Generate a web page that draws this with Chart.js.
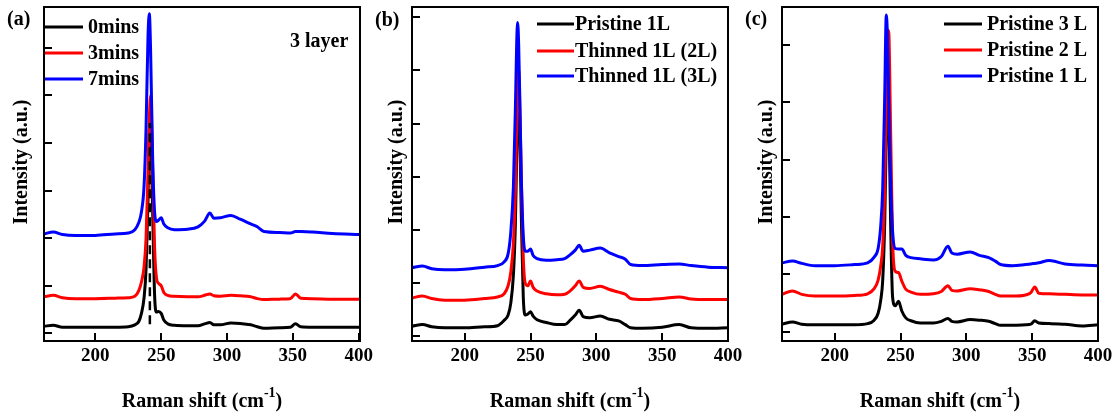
<!DOCTYPE html>
<html>
<head>
<meta charset="utf-8">
<title>Raman spectra</title>
<script src="https://cdn.jsdelivr.net/npm/chart.js@4.4.1/dist/chart.umd.min.js"></script>
<style>
  html, body { margin: 0; padding: 0; background: #fff; }
  .wrap { position: relative; width: 1115px; height: 418px; }
  .wrap canvas { position: absolute; top: 0; }
</style>
</head>
<body>
<div class="wrap">
  <canvas id="panelA" width="380" height="418" style="left:0"></canvas>
  <canvas id="panelB" width="380" height="418" style="left:368px"></canvas>
  <canvas id="panelC" width="377" height="418" style="left:738px"></canvas>
</div>
<script>
/* ================================================================
   Raman spectra, three panels (a) (b) (c)
   ================================================================ */

var SERIF = '"Liberation Serif", "Times New Roman", serif';
var BLACK = '#000000', RED = '#ff0000', BLUE = '#0000ff';
var xTicks = [200, 250, 300, 350, 400];

/* ── Panel (a): thinning time, 3 layer ───────────────────── */
var shiftA = [161, 168, 175, 185, 200, 215, 225, 230, 233, 235,
              237, 238.5, 240, 241, 242, 243.5, 245, 246.5, 248, 250,
              252, 255, 260, 270, 278, 283, 287, 290, 295, 303,
              310, 318, 323, 328, 340, 348, 352, 356, 365, 380, 401];
var min0A = [0.15, 0.17, 0.13, 0.13, 0.13, 0.13, 0.14, 0.18, 0.25, 0.42,
             0.75, 1.35, 2.8, 4.3, 4.2, 2.6, 0.8, 0.45, 0.46, 0.42,
             0.28, 0.2, 0.17, 0.16, 0.16, 0.2, 0.23, 0.18, 0.18, 0.22,
             0.21, 0.18, 0.14, 0.11, 0.12, 0.13, 0.2, 0.14, 0.13, 0.13, 0.13];
var min3A = [0.77, 0.8, 0.75, 0.73, 0.73, 0.74, 0.75, 0.78, 0.9, 1.08,
             1.4, 2.0, 3.4, 4.5, 5.0, 3.5, 1.8, 1.15, 1.05, 1.0,
             0.86, 0.8, 0.78, 0.77, 0.77, 0.8, 0.83, 0.79, 0.78, 0.8,
             0.79, 0.77, 0.73, 0.71, 0.72, 0.73, 0.83, 0.74, 0.73, 0.72, 0.72];
var min7A = [2.09, 2.13, 2.08, 2.06, 2.06, 2.09, 2.11, 2.18, 2.33, 2.55,
             3.1, 4.3, 6.25, 6.72, 5.9, 3.7, 2.55, 2.35, 2.38, 2.43,
             2.3, 2.22, 2.18, 2.19, 2.24, 2.36, 2.53, 2.42, 2.43, 2.48,
             2.4, 2.3, 2.24, 2.14, 2.12, 2.11, 2.14, 2.14, 2.13, 2.1, 2.08];
var markXA = [241.4, 241.4];
var markYA = [0.19, 4.42];
var yTicksA = [0, 1, 2, 3, 4, 5, 6];

/* ── Panel (b): pristine vs thinned 1L ───────────────────── */
var shiftB = [160, 168, 175, 185, 200, 215, 225, 230, 233, 235,
              237, 238.5, 239.5, 240.2, 241, 242, 243, 244.5, 246, 248,
              250, 252, 255, 262, 270, 276, 280, 284, 287, 290,
              295, 303, 310, 317, 322, 326, 335, 350, 363, 372, 385, 400];
var pristine1B = [0.19, 0.22, 0.18, 0.16, 0.16, 0.18, 0.2, 0.3, 0.4, 0.62,
                  1.15, 2.1, 3.4, 4.2, 4.45, 3.6, 2.3, 0.75, 0.4, 0.42,
                  0.46, 0.38, 0.31, 0.26, 0.22, 0.22, 0.3, 0.4, 0.49, 0.37,
                  0.35, 0.38, 0.32, 0.29, 0.22, 0.16, 0.15, 0.17, 0.22, 0.16, 0.15, 0.16];
var thinned2B = [0.72, 0.76, 0.71, 0.68, 0.68, 0.71, 0.74, 0.8, 0.95, 1.2,
                 1.75, 2.7, 4.0, 4.75, 5.0, 4.2, 3.0, 1.5, 1.0, 0.95,
                 1.04, 0.92, 0.85, 0.8, 0.78, 0.79, 0.85, 0.95, 1.04, 0.92,
                 0.9, 0.94, 0.88, 0.83, 0.79, 0.71, 0.69, 0.71, 0.74, 0.7, 0.69, 0.69];
var thinned3B = [1.29, 1.32, 1.27, 1.25, 1.26, 1.3, 1.33, 1.4, 1.55, 1.95,
                 2.8, 4.25, 5.5, 5.9, 5.5, 4.3, 3.0, 1.9, 1.6, 1.6,
                 1.64, 1.52, 1.46, 1.43, 1.44, 1.46, 1.53, 1.62, 1.71, 1.6,
                 1.62, 1.66, 1.57, 1.5, 1.45, 1.35, 1.33, 1.35, 1.36, 1.33, 1.3, 1.29];
var yTicksB = [0, 1, 2, 3, 4, 5, 6];

/* ── Panel (c): pristine 3L / 2L / 1L ────────────────────── */
var shiftC = [160, 168, 175, 185, 200, 215, 225, 230, 233, 235,
              236.5, 238, 239.2, 240, 241, 242.5, 244, 246, 248.5, 251,
              254, 258, 265, 275, 281, 286, 289, 293, 303, 310,
              317, 322, 326, 335, 345, 349, 352, 355, 363, 375, 388, 400];
var pristine3C = [0.13, 0.17, 0.13, 0.12, 0.12, 0.12, 0.14, 0.2, 0.32, 0.55,
                  0.9, 1.9, 3.4, 4.35, 4.0, 1.9, 0.6, 0.45, 0.53, 0.36,
                  0.24, 0.19, 0.15, 0.15, 0.18, 0.23, 0.18, 0.17, 0.21, 0.2,
                  0.18, 0.14, 0.11, 0.11, 0.12, 0.13, 0.19, 0.15, 0.14, 0.13, 0.1, 0.12];
var pristine2C = [0.65, 0.71, 0.65, 0.62, 0.62, 0.63, 0.66, 0.75, 0.9, 1.15,
                  1.5, 2.5, 4.0, 5.0, 5.25, 3.5, 1.6, 1.05, 1.03, 0.88,
                  0.74, 0.69, 0.65, 0.66, 0.7, 0.8, 0.72, 0.71, 0.75, 0.73,
                  0.7, 0.65, 0.62, 0.62, 0.64, 0.68, 0.78, 0.67, 0.66, 0.65, 0.64, 0.64];
var pristine1C = [1.2, 1.23, 1.19, 1.15, 1.15, 1.17, 1.2, 1.3, 1.45, 1.85,
                  2.5, 4.1, 5.52, 5.2, 4.1, 2.6, 1.75, 1.45, 1.44, 1.44,
                  1.33, 1.29, 1.27, 1.25, 1.31, 1.49, 1.37, 1.35, 1.39, 1.33,
                  1.29, 1.23, 1.17, 1.15, 1.17, 1.18, 1.19, 1.2, 1.24, 1.18, 1.16, 1.15];
var yTicksC = [0, 1, 2, 3, 4, 5];

/* ── Helpers ─────────────────────────────────────────────── */
function pts(xs, ys) {
  return xs.map(function (x, i) { return { x: x, y: ys[i] }; });
}

function curve(label, color, xs, ys, order) {
  return {
    label: label,
    data: pts(xs, ys),
    borderColor: color,
    backgroundColor: color,
    borderWidth: 3,
    pointRadius: 0,
    fill: false,
    cubicInterpolationMode: 'monotone',
    order: order
  };
}

function setTicks(list) {
  return function (scale) {
    scale.ticks = list.map(function (v) { return { value: v }; });
  };
}

/* frame, panel tag, legend, note and axis titles */
var decor = {
  id: 'decor',
  afterDraw: function (chart, args, o) {
    var ctx = chart.ctx, a = chart.chartArea;
    var big = 'bold 20px ' + SERIF, small = 'bold 14px ' + SERIF;
    ctx.save();
    ctx.strokeStyle = '#000';
    ctx.lineWidth = 2;
    ctx.strokeRect(a.left, a.top, a.right - a.left, a.bottom - a.top);

    ctx.fillStyle = '#000';
    ctx.textBaseline = 'middle';
    ctx.textAlign = 'left';
    ctx.font = big;
    ctx.fillText(o.tag, 7, o.tagY);

    var row = 0;
    chart.data.datasets.forEach(function (ds) {
      if (!ds.label) return;
      var y = o.legendY[row++];
      ctx.strokeStyle = ds.borderColor;
      ctx.lineWidth = 3;
      ctx.beginPath();
      ctx.moveTo(o.legendX, y);
      ctx.lineTo(o.legendX + o.legendLen, y);
      ctx.stroke();
      ctx.fillText(ds.label, o.legendX + o.legendLen + o.legendGap, y + 1);
    });

    if (o.note) ctx.fillText(o.note, o.noteX, o.noteY);

    ctx.save();
    ctx.translate(o.yTitleX, o.yTitleY);
    ctx.rotate(-Math.PI / 2);
    ctx.textAlign = 'center';
    ctx.fillText('Intensity (a.u.)', 0, 0);
    ctx.restore();

    var main = 'Raman shift (cm', sup = '-1', tail = ')';
    ctx.font = big;
    var w1 = ctx.measureText(main).width, w3 = ctx.measureText(tail).width;
    ctx.font = small;
    var w2 = ctx.measureText(sup).width;
    var x0 = (a.left + a.right) / 2 - (w1 + w2 + w3) / 2;
    ctx.font = big;
    ctx.fillText(main, x0, 402);
    ctx.fillText(tail, x0 + w1 + w2, 402);
    ctx.font = small;
    ctx.fillText(sup, x0 + w1, 393);
    ctx.restore();
  }
};

function makePanel(id, datasets, xMin, xMax, yMin, yMax, yTicks, padRight, deco) {
  var axisGrid = { drawOnChartArea: false, drawTicks: true, tickLength: -8, lineWidth: 2, color: '#000' };
  return new Chart(document.getElementById(id), {
    type: 'line',
    data: { datasets: datasets },
    plugins: [decor],
    options: {
      responsive: false,
      animation: false,
      events: [],
      layout: { padding: { top: 7, right: padRight, left: 0, bottom: 0 } },
      plugins: {
        legend: { display: false },
        tooltip: { enabled: false },
        decor: deco
      },
      scales: {
        x: {
          type: 'linear', min: xMin, max: xMax,
          afterBuildTicks: setTicks(xTicks),
          afterFit: function (s) { s.height = 77; s.paddingLeft = 0; s.paddingRight = 0; },
          grid: axisGrid,
          border: { color: '#000', width: 2 },
          ticks: {
            color: '#000', autoSkip: false, maxRotation: 0, padding: 12,
            font: { family: SERIF, size: 19, weight: 'bold' }
          }
        },
        y: {
          type: 'linear', min: yMin, max: yMax,
          afterBuildTicks: setTicks(yTicks),
          afterFit: function (s) { s.width = 44; s.paddingTop = 0; s.paddingBottom = 0; },
          grid: axisGrid,
          border: { color: '#000', width: 2 },
          ticks: { display: false }
        }
      }
    }
  });
}

/* ── Build ───────────────────────────────────────────────── */
makePanel('panelA', [
  curve('0mins', BLACK, shiftA, min0A, 3),
  curve('3mins', RED, shiftA, min3A, 2),
  curve('7mins', BLUE, shiftA, min7A, 1),
  {
    label: '', data: pts(markXA, markYA), borderColor: BLACK, borderWidth: 2.5,
    borderDash: [9, 5], pointRadius: 0, fill: false, order: 0
  }
], 161, 401, -0.16, 6.86, yTicksA, 20, {
  tag: '(a)', tagY: 20,
  legendX: 45, legendLen: 38, legendGap: 5, legendY: [27, 53, 79],
  note: '3 layer', noteX: 290, noteY: 42,
  yTitleX: 22, yTitleY: 162
});

makePanel('panelB', [
  curve('Pristine 1L', BLACK, shiftB, pristine1B, 3),
  curve('Thinned 1L (2L)', RED, shiftB, thinned2B, 2),
  curve('Thinned 1L (3L)', BLUE, shiftB, thinned3B, 1)
], 160, 400, -0.088, 6.19, yTicksB, 20, {
  tag: '(b)', tagY: 21,
  legendX: 169, legendLen: 37, legendGap: 1, legendY: [24, 51, 76],
  yTitleX: 29, yTitleY: 162
});

makePanel('panelC', [
  curve('Pristine 3 L', BLACK, shiftC, pristine3C, 3),
  curve('Pristine 2 L', RED, shiftC, pristine2C, 2),
  curve('Pristine 1 L', BLUE, shiftC, pristine1C, 1)
], 160, 400, -0.163, 5.66, yTicksC, 17, {
  tag: '(c)', tagY: 20,
  legendX: 206, legendLen: 38, legendGap: 5, legendY: [24, 50, 76],
  yTitleX: 29, yTitleY: 162
});
</script>
</body>
</html>
